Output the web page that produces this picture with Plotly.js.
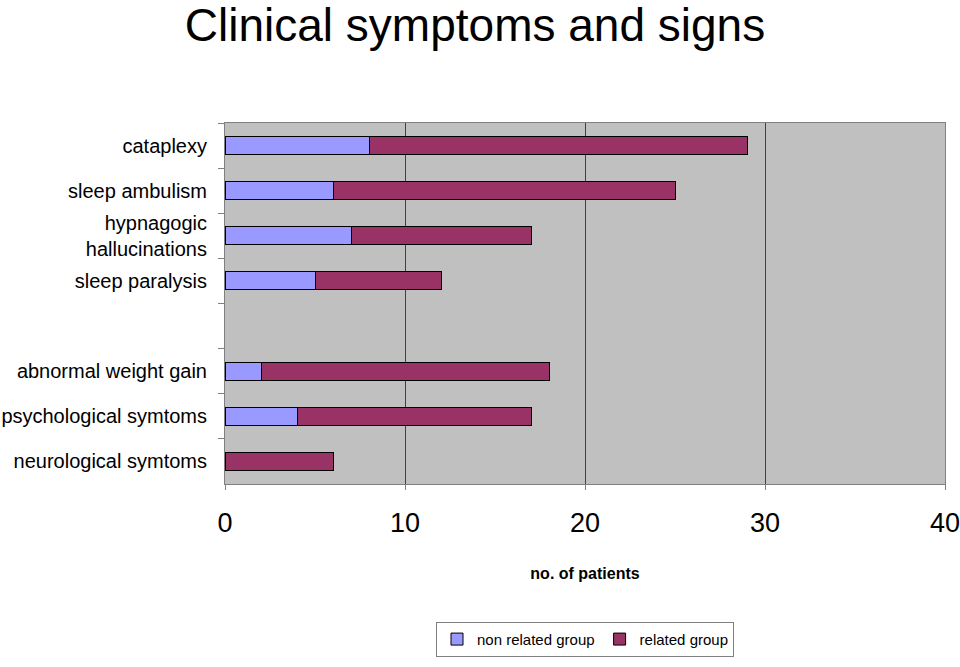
<!DOCTYPE html>
<html>
<head>
<meta charset="utf-8">
<script src="https://cdn.plot.ly/plotly-3.0.1.min.js"></script>
<style>html,body{margin:0;padding:0;background:#fff;}#chart{width:960px;height:667px;}</style>
</head>
<body>
<div id="chart"></div>
<script>
const categories = ["cataplexy", "sleep ambulism", "hypnagogic<br>hallucinations", "sleep paralysis", " ", "abnormal weight gain", "psychological symtoms", "neurological symtoms"];
const nonRelated = [8, 6, 7, 5, null, 2, 4, 0];
const related = [21, 19, 10, 7, null, 16, 13, 6];
const xTicks = [0, 10, 20, 30, 40];

const font = "Arial, 'Liberation Sans', sans-serif";
const traces = [
  {type: "bar", orientation: "h", name: "non related group", y: categories, x: nonRelated,
   marker: {color: "#9999FF", line: {color: "#000000", width: 1}}},
  {type: "bar", orientation: "h", name: "related group", y: categories, x: related,
   marker: {color: "#993366", line: {color: "#000000", width: 1}}}
];
const layout = {
  width: 960, height: 667,
  margin: {l: 225, r: 15, t: 123, b: 182},
  paper_bgcolor: "#ffffff", plot_bgcolor: "#C0C0C0",
  barmode: "stack", bargap: 0.6,
  font: {family: font, color: "#000000"},
  title: {text: "Clinical symptoms and signs", font: {family: font, size: 46, color: "#000"},
          x: 475/960, xanchor: "center", xref: "container", yref: "container", y: 1 - 9/667, yanchor: "top"},
  xaxis: {range: [0, 40], tickvals: xTicks, ticktext: xTicks.map(String),
          showgrid: true, gridcolor: "#404040", gridwidth: 1, zeroline: false,
          ticks: "outside", ticklen: 5, tickcolor: "#808080",
          showline: true, linecolor: "#808080", mirror: true,
          tickfont: {size: 27, family: font}, ticklabelstandoff: 10, ticklabeloverflow: "allow",
          title: {text: "<b>no. of patients</b>", font: {size: 16, family: font}, standoff: 30},
          fixedrange: true},
  yaxis: {type: "category", categoryorder: "array", categoryarray: categories,
          autorange: "reversed", tickson: "boundaries", ticks: "outside", ticklen: 6, tickcolor: "#808080",
          showgrid: false, showline: true, linecolor: "#808080", mirror: true, zeroline: false,
          tickfont: {size: 20, family: font}, ticklabelstandoff: 13, automargin: false},
  showlegend: true,
  legend: {orientation: "h", x: 585/720 - 225/720, xanchor: "center", y: -0.378, yanchor: "top",
           bordercolor: "#808080", borderwidth: 1, bgcolor: "#ffffff",
           font: {size: 15, family: font}, traceorder: "normal", itemwidth: 30,
           tracegroupgap: 0, entrywidth: 0}
};
Plotly.newPlot("chart", traces, layout, {displayModeBar: false, staticPlot: true});
</script>
</body>
</html>
